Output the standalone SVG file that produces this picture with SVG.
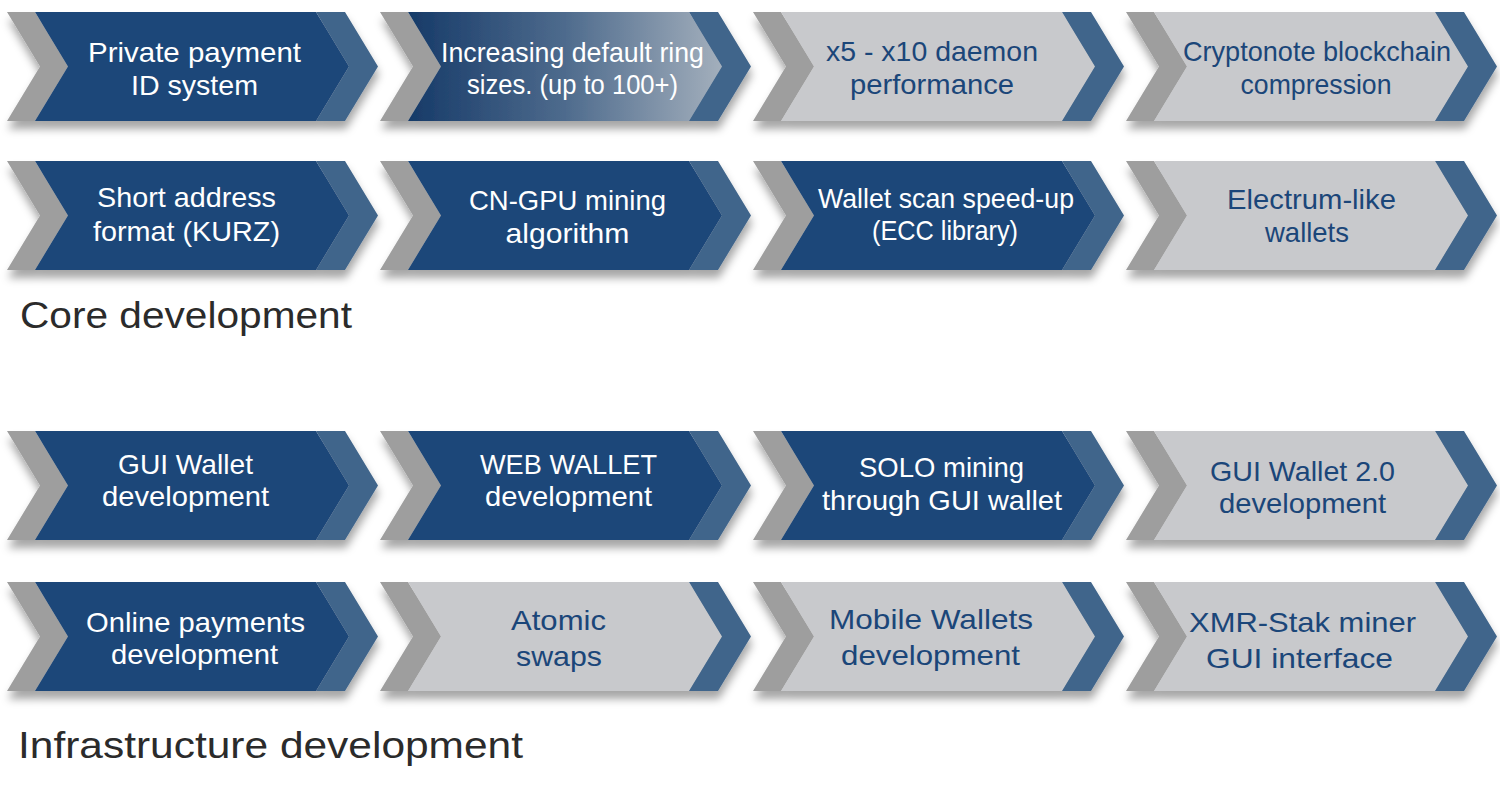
<svg xmlns="http://www.w3.org/2000/svg" xmlns:xlink="http://www.w3.org/1999/xlink" width="1500" height="800" viewBox="0 0 1500 800">
<style>
.grey{fill:#9e9e9e}
.dark{fill:#1b4679}
.light{fill:#c8c9cc}
.band{fill:#41658b}
.grad{fill:url(#g1)}
text{font-family:"Liberation Sans",Arial,sans-serif;font-size:28px;text-anchor:middle}
.tw{fill:#ffffff}
.tb{fill:#1b4679}
.title{font-size:37px;fill:#2b2b2b;text-anchor:start}
.shape{filter:url(#sh)}
</style>
<defs>
<filter id="sh" x="-5%" y="-10%" width="115%" height="140%">
<feDropShadow dx="1" dy="8" stdDeviation="4" flood-color="#000" flood-opacity="0.35"/>
</filter>
<linearGradient id="g1" x1="0" y1="0" x2="1" y2="0">
<stop offset="0" stop-color="#163a68"/>
<stop offset="0.5" stop-color="#4e6b8d"/>
<stop offset="1" stop-color="#a3afbc"/>
</linearGradient>
<path id="pg" d="M0,0H28L61,54.5L28,109H0L33,54.5Z"/>
<path id="pb" d="M28,0H309L342,54.5L309,109H28L61,54.5Z"/>
<path id="pn" d="M309,0H338L371,54.5L338,109H309L342,54.5Z"/>
</defs>

<g id="connectors"></g>

<!-- Row 1 -->
<g id="n-private-payment">
<g class="shape" transform="translate(7,12)"><use xlink:href="#pg" class="grey"/><use xlink:href="#pb" class="dark"/><use xlink:href="#pn" class="band"/></g>
<text class="tw" x="194.5" y="62" textLength="213" lengthAdjust="spacingAndGlyphs">Private payment</text>
<text class="tw" x="194.5" y="95" textLength="127" lengthAdjust="spacingAndGlyphs">ID system</text>
</g>
<g id="n-ring-sizes">
<g class="shape" transform="translate(380,12)"><use xlink:href="#pg" class="grey"/><use xlink:href="#pb" class="grad"/><use xlink:href="#pn" class="band"/></g>
<text class="tw" x="572.5" y="62" textLength="263" lengthAdjust="spacingAndGlyphs">Increasing default ring</text>
<text class="tw" x="572.5" y="94" textLength="211" lengthAdjust="spacingAndGlyphs">sizes. (up to 100+)</text>
</g>
<g id="n-daemon">
<g class="shape" transform="translate(753,12)"><use xlink:href="#pg" class="grey"/><use xlink:href="#pb" class="light"/><use xlink:href="#pn" class="band"/></g>
<text class="tb" x="932" y="61" textLength="212" lengthAdjust="spacingAndGlyphs">x5 - x10 daemon</text>
<text class="tb" x="932" y="94" textLength="164" lengthAdjust="spacingAndGlyphs">performance</text>
</g>
<g id="n-compression">
<g class="shape" transform="translate(1126,12)"><use xlink:href="#pg" class="grey"/><use xlink:href="#pb" class="light"/><use xlink:href="#pn" class="band"/></g>
<text class="tb" x="1317" y="61" textLength="268" lengthAdjust="spacingAndGlyphs">Cryptonote blockchain</text>
<text class="tb" x="1316" y="94" textLength="151" lengthAdjust="spacingAndGlyphs">compression</text>
</g>

<!-- Row 2 -->
<g id="n-short-address">
<g class="shape" transform="translate(7,161)"><use xlink:href="#pg" class="grey"/><use xlink:href="#pb" class="dark"/><use xlink:href="#pn" class="band"/></g>
<text class="tw" x="186.5" y="207" textLength="179" lengthAdjust="spacingAndGlyphs">Short address</text>
<text class="tw" x="186.5" y="241" textLength="187" lengthAdjust="spacingAndGlyphs">format (KURZ)</text>
</g>
<g id="n-cn-gpu">
<g class="shape" transform="translate(380,161)"><use xlink:href="#pg" class="grey"/><use xlink:href="#pb" class="dark"/><use xlink:href="#pn" class="band"/></g>
<text class="tw" x="567.5" y="210" textLength="197" lengthAdjust="spacingAndGlyphs">CN-GPU mining</text>
<text class="tw" x="567.5" y="243" textLength="124" lengthAdjust="spacingAndGlyphs">algorithm</text>
</g>
<g id="n-wallet-scan">
<g class="shape" transform="translate(753,161)"><use xlink:href="#pg" class="grey"/><use xlink:href="#pb" class="dark"/><use xlink:href="#pn" class="band"/></g>
<text class="tw" x="946" y="208" textLength="256" lengthAdjust="spacingAndGlyphs">Wallet scan speed-up</text>
<text class="tw" x="945" y="240" textLength="146" lengthAdjust="spacingAndGlyphs">(ECC library)</text>
</g>
<g id="n-electrum">
<g class="shape" transform="translate(1126,161)"><use xlink:href="#pg" class="grey"/><use xlink:href="#pb" class="light"/><use xlink:href="#pn" class="band"/></g>
<text class="tb" x="1311.5" y="209" textLength="169" lengthAdjust="spacingAndGlyphs">Electrum-like</text>
<text class="tb" x="1307" y="242" textLength="84" lengthAdjust="spacingAndGlyphs">wallets</text>
</g>

<text id="t-core" class="title" x="20" y="328" textLength="332" lengthAdjust="spacingAndGlyphs">Core development</text>

<!-- Row 3 -->
<g id="n-gui-wallet">
<g class="shape" transform="translate(7,431)"><use xlink:href="#pg" class="grey"/><use xlink:href="#pb" class="dark"/><use xlink:href="#pn" class="band"/></g>
<text class="tw" x="185.5" y="474" textLength="135" lengthAdjust="spacingAndGlyphs">GUI Wallet</text>
<text class="tw" x="185.5" y="506" textLength="167" lengthAdjust="spacingAndGlyphs">development</text>
</g>
<g id="n-web-wallet">
<g class="shape" transform="translate(380,431)"><use xlink:href="#pg" class="grey"/><use xlink:href="#pb" class="dark"/><use xlink:href="#pn" class="band"/></g>
<text class="tw" x="568.5" y="474" textLength="177" lengthAdjust="spacingAndGlyphs">WEB WALLET</text>
<text class="tw" x="568.5" y="506" textLength="167" lengthAdjust="spacingAndGlyphs">development</text>
</g>
<g id="n-solo-mining">
<g class="shape" transform="translate(753,431)"><use xlink:href="#pg" class="grey"/><use xlink:href="#pb" class="dark"/><use xlink:href="#pn" class="band"/></g>
<text class="tw" x="941.5" y="477" textLength="165" lengthAdjust="spacingAndGlyphs">SOLO mining</text>
<text class="tw" x="942" y="510" textLength="240" lengthAdjust="spacingAndGlyphs">through GUI wallet</text>
</g>
<g id="n-gui-wallet-2">
<g class="shape" transform="translate(1126,431)"><use xlink:href="#pg" class="grey"/><use xlink:href="#pb" class="light"/><use xlink:href="#pn" class="band"/></g>
<text class="tb" x="1302.5" y="481" textLength="185" lengthAdjust="spacingAndGlyphs">GUI Wallet 2.0</text>
<text class="tb" x="1302.5" y="513" textLength="167" lengthAdjust="spacingAndGlyphs">development</text>
</g>

<!-- Row 4 -->
<g id="n-online-payments">
<g class="shape" transform="translate(7,582)"><use xlink:href="#pg" class="grey"/><use xlink:href="#pb" class="dark"/><use xlink:href="#pn" class="band"/></g>
<text class="tw" x="195.5" y="632" textLength="219" lengthAdjust="spacingAndGlyphs">Online payments</text>
<text class="tw" x="194.5" y="664" textLength="167" lengthAdjust="spacingAndGlyphs">development</text>
</g>
<g id="n-atomic-swaps">
<g class="shape" transform="translate(380,582)"><use xlink:href="#pg" class="grey"/><use xlink:href="#pb" class="light"/><use xlink:href="#pn" class="band"/></g>
<text class="tb" x="558.5" y="630" textLength="95" lengthAdjust="spacingAndGlyphs">Atomic</text>
<text class="tb" x="559" y="666" textLength="86" lengthAdjust="spacingAndGlyphs">swaps</text>
</g>
<g id="n-mobile-wallets">
<g class="shape" transform="translate(753,582)"><use xlink:href="#pg" class="grey"/><use xlink:href="#pb" class="light"/><use xlink:href="#pn" class="band"/></g>
<text class="tb" x="931" y="629" textLength="204" lengthAdjust="spacingAndGlyphs">Mobile Wallets</text>
<text class="tb" x="930.5" y="665" textLength="179" lengthAdjust="spacingAndGlyphs">development</text>
</g>
<g id="n-xmr-stak">
<g class="shape" transform="translate(1126,582)"><use xlink:href="#pg" class="grey"/><use xlink:href="#pb" class="light"/><use xlink:href="#pn" class="band"/></g>
<text class="tb" x="1302.5" y="632" textLength="227" lengthAdjust="spacingAndGlyphs">XMR-Stak miner</text>
<text class="tb" x="1299.5" y="668" textLength="187" lengthAdjust="spacingAndGlyphs">GUI interface</text>
</g>

<text id="t-infra" class="title" x="18" y="758" textLength="505" lengthAdjust="spacingAndGlyphs">Infrastructure development</text>
</svg>
